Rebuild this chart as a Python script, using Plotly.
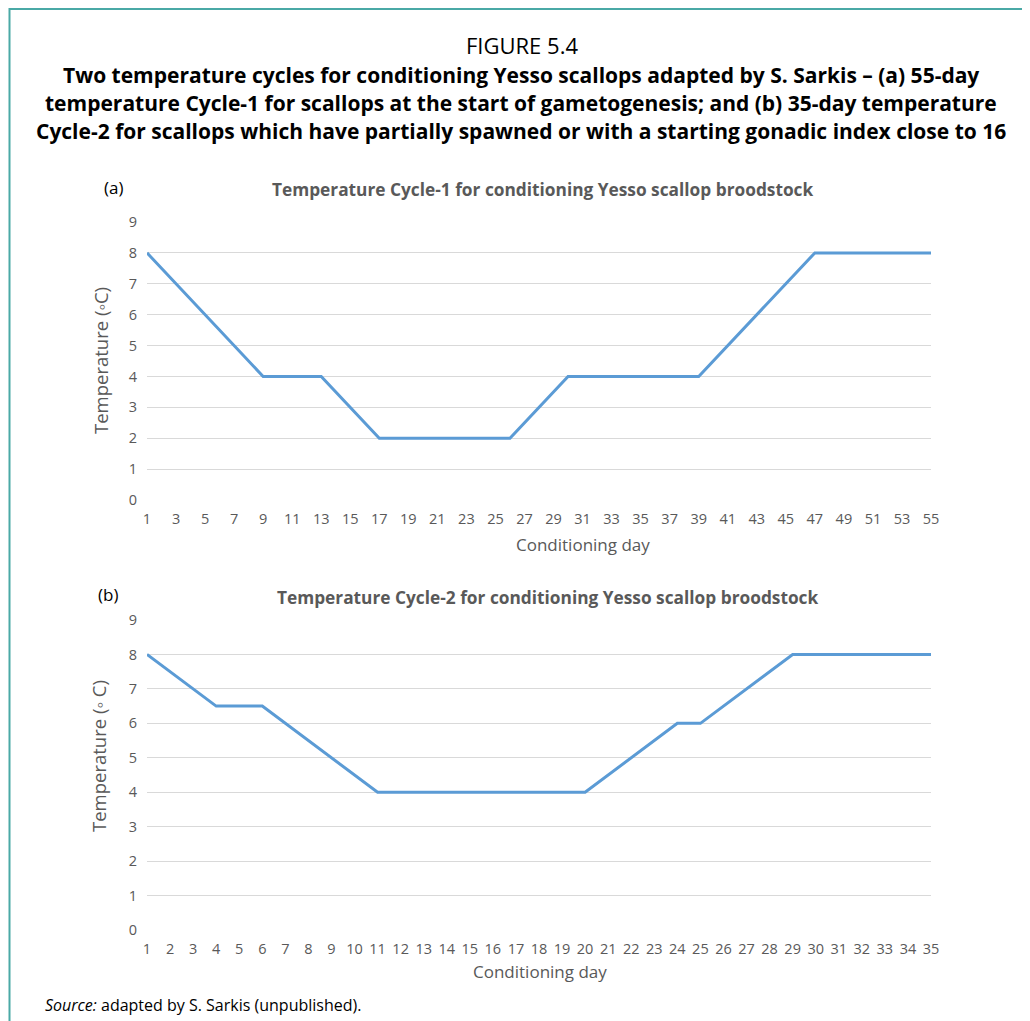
import plotly.graph_objects as go

# Cycle 1 breakpoints
days_a = [1, 9, 13, 17, 26, 30, 39, 47, 55]
temp_a = [8, 4, 4, 2, 2, 4, 4, 8, 8]
# Cycle 2 breakpoints
days_b = [1, 4, 6, 11, 20, 24, 25, 29, 35]
temp_b = [8, 6.5, 6.5, 4, 4, 6, 6, 8, 8]

xticks_a = list(range(1, 56, 2))
xticks_b = list(range(1, 36))
yticks = list(range(0, 10))

W, H = 1030, 1021
OFF = 8  # page body margin
def px(x): return (x - OFF) / W
def py(y): return 1 - (y - OFF) / H

FONT = "Open Sans"
GRAY = "#595959"
LINE = "#5b9bd5"
GRID = "#d9d9d9"
TEAL = "#4aa9a6"

fig = go.Figure()
fig.add_trace(go.Scatter(x=days_a, y=temp_a, mode="lines", line=dict(color=LINE, width=3),
                         xaxis="x", yaxis="y", cliponaxis=False, showlegend=False))
fig.add_trace(go.Scatter(x=days_b, y=temp_b, mode="lines", line=dict(color=LINE, width=3),
                         xaxis="x2", yaxis="y2", cliponaxis=False, showlegend=False))

xdom = [px(147), px(931)]
common_x = dict(showgrid=False, zeroline=False, showline=False, ticks="", automargin=False,
                tickfont=dict(family=FONT, size=14.5, color=GRAY), ticklabelstandoff=8)
common_y = dict(showgrid=True, gridcolor=GRID, gridwidth=1, zeroline=False, showline=False,
                ticks="", tickmode="array", tickvals=yticks, range=[0, 9], automargin=False,
                tickfont=dict(family=FONT, size=14.5, color=GRAY), ticklabelstandoff=9)

fig.update_layout(
    width=W, height=H, margin=dict(l=0, r=0, t=0, b=0, pad=0, autoexpand=False),
    paper_bgcolor="white", plot_bgcolor="white", showlegend=False,
    xaxis=dict(domain=xdom, range=[1, 55], tickmode="array", tickvals=xticks_a,
               anchor="y", **common_x),
    yaxis=dict(domain=[py(500), py(222)], anchor="x", **common_y),
    xaxis2=dict(domain=xdom, range=[1, 35], tickmode="array", tickvals=xticks_b,
                anchor="y2", **common_x),
    yaxis2=dict(domain=[py(930), py(620)], anchor="x2", **common_y),
)

def ann(text, x, y, size, color="black", xanchor="center", bold=False, angle=0):
    fig.add_annotation(text=text, x=px(x), y=py(y), xref="paper", yref="paper",
                       showarrow=False, xanchor=xanchor, yanchor="middle", textangle=angle,
                       font=dict(family=FONT, size=size, color=color,
                                 weight="bold" if bold else "normal"))

ann("FIGURE 5.4", 522, 45, 22)
ann("Two temperature cycles for conditioning Yesso scallops adapted by S. Sarkis – (a) 55-day",
    521, 75, 21, bold=True)
ann("temperature Cycle-1 for scallops at the start of gametogenesis; and (b) 35-day temperature",
    521, 103, 21, bold=True)
ann("Cycle-2 for scallops which have partially spawned or with a starting gonadic index close to 16",
    521, 131, 21, bold=True)

ann("(a)", 113, 187, 17)
ann("Temperature Cycle-1 for conditioning Yesso scallop broodstock", 543, 190, 17.3, color=GRAY, bold=True)
ann("Conditioning day", 583, 544, 17, color=GRAY)
ann("Temperature (◦C)", 100, 361, 18.5, color=GRAY, angle=-90)

ann("(b)", 108, 594, 17)
ann("Temperature Cycle-2 for conditioning Yesso scallop broodstock", 548, 597, 17.3, color=GRAY, bold=True)
ann("Conditioning day", 540, 971, 17, color=GRAY)
ann("Temperature (◦ C)", 98, 756, 18.5, color=GRAY, angle=-90)

ann("<i>Source:</i> adapted by S. Sarkis (unpublished).", 43, 1005, 16, xanchor="left")

# frame lines (top and left)
fig.add_shape(type="line", xref="paper", yref="paper", x0=px(9), x1=1, y0=1 - 1 / H, y1=1 - 1 / H,
              line=dict(color=TEAL, width=2))
fig.add_shape(type="line", xref="paper", yref="paper", x0=px(9.5), x1=px(9.5), y0=1, y1=0,
              line=dict(color=TEAL, width=2))

fig.write_html("out.html")
